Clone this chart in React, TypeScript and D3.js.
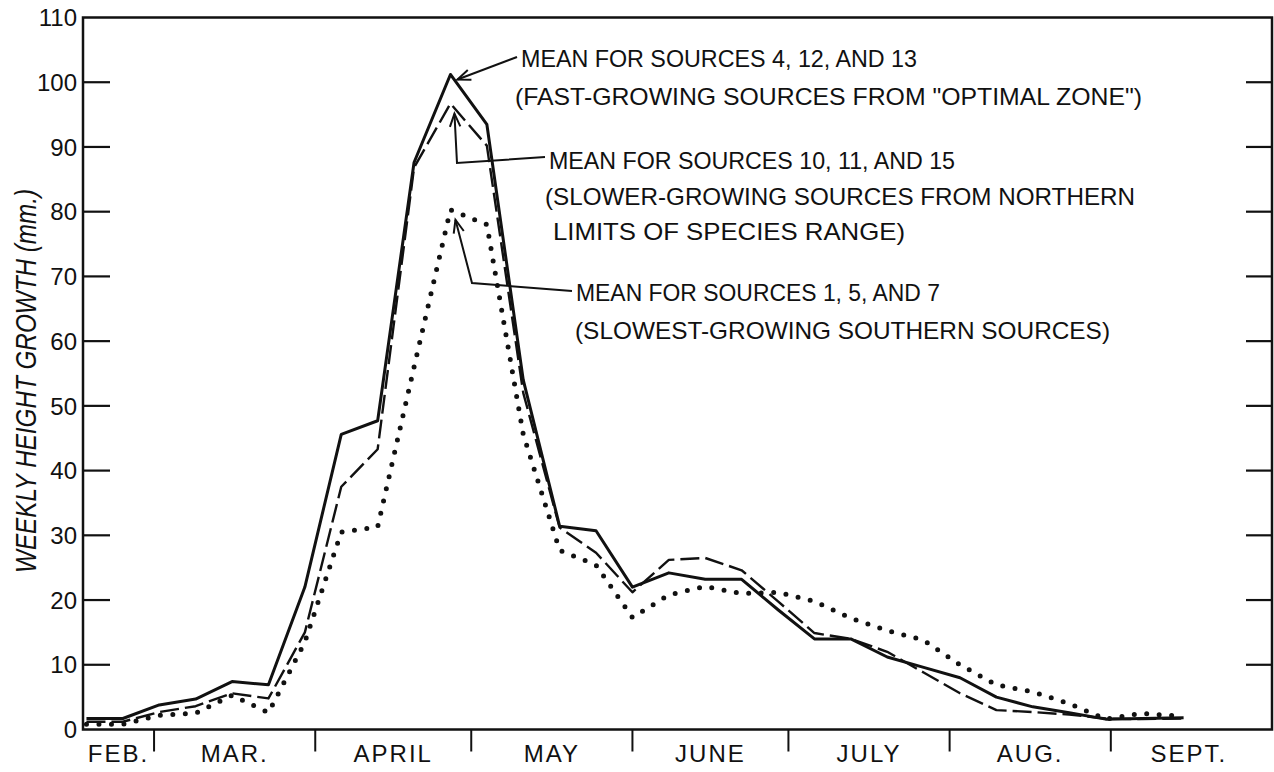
import React from "react";
import * as d3 from "d3";

// Weekly measurement dates (1958 season)
const weekDates = [
  "1958-02-16", "1958-02-23", "1958-03-02", "1958-03-09", "1958-03-16", "1958-03-23",
  "1958-03-30", "1958-04-06", "1958-04-13", "1958-04-20", "1958-04-27", "1958-05-04",
  "1958-05-11", "1958-05-18", "1958-05-25", "1958-06-01", "1958-06-08", "1958-06-15",
  "1958-06-22", "1958-06-29", "1958-07-06", "1958-07-13", "1958-07-20", "1958-07-27",
  "1958-08-03", "1958-08-10", "1958-08-17", "1958-08-24", "1958-08-31", "1958-09-07",
  "1958-09-15",
];

// Weekly height growth (mm.) — sources 4, 12 and 13
const fastSources = [
  1.7, 1.7, 3.8, 4.7, 7.4, 6.9, 22, 45.6, 47.7, 87.6, 101.2, 93.5, 54, 31.4, 30.7, 22.0,
  24.2, 23.2, 23.2, 18.5, 14.0, 14.0, 11.2, 9.6, 8.0, 5.0, 3.5, 2.6, 1.6, 1.7, 1.8,
];

// Sources 10, 11 and 15
const northernSources = [
  1.2, 1.2, 2.7, 3.6, 5.6, 4.8, 15, 37.5, 43.3, 86.8, 96.7, 90.2, 52, 31.2, 27.3, 21.2,
  26.2, 26.5, 24.6, 19.8, 14.9, 14.0, 12.0, 8.8, 5.6, 3.0, 2.7, 2.3, 1.7, 1.6, 1.7,
];

// Sources 1, 5 and 7
const southernSources = [
  0.8, 0.8, 2.2, 2.5, 5.3, 2.6, 13.5, 30.5, 31.3, 56, 80.3, 78, 45.6, 27.7, 25.4, 17.3,
  20.8, 22.1, 21.0, 21.2, 19.8, 17.2, 15.3, 13.8, 10.0, 6.9, 5.8, 4.0, 1.6, 2.5, 2.0,
];

const monthLabels = ["FEB.", "MAR.", "APRIL", "MAY", "JUNE", "JULY", "AUG.", "SEPT."];
const yTickValues = [0, 10, 20, 30, 40, 50, 60, 70, 80, 90, 100, 110];

const labelFast = ["MEAN FOR SOURCES 4, 12, AND 13", '(FAST-GROWING SOURCES FROM "OPTIMAL ZONE")'];
const labelNorthern = [
  "MEAN FOR SOURCES 10, 11, AND 15",
  "(SLOWER-GROWING SOURCES FROM NORTHERN",
  "LIMITS OF SPECIES RANGE)",
];
const labelSouthern = ["MEAN FOR SOURCES 1, 5, AND 7", "(SLOWEST-GROWING SOUTHERN SOURCES)"];
const yAxisTitle = "WEEKLY HEIGHT GROWTH (mm.)";

const W = 1274;
const H = 772;
const left = 83;
const right = 1272;
const top = 17.5;
const bottom = 729.5;
const FONT = "'Liberation Sans', Arial, Helvetica, sans-serif";
const INK = "#111";

const parse = d3.utcParse("%Y-%m-%d");
const dates = weekDates.map((d) => parse(d) as Date);

const domainStart = new Date(Date.UTC(1958, 1, 15, 8));
const domainEnd = new Date(Date.UTC(1958, 9, 2));

const x = d3.scaleUtc().domain([domainStart, domainEnd]).range([left, right]);
const y = d3.scaleLinear().domain([0, 110]).range([bottom, top]);

type Pt = [number, number];

function arrowHead(tip: Pt, from: Pt, len = 14, spread = 0.38): string {
  const a = Math.atan2(from[1] - tip[1], from[0] - tip[0]);
  const p1: Pt = [tip[0] + len * Math.cos(a + spread), tip[1] + len * Math.sin(a + spread)];
  const p2: Pt = [tip[0] + len * Math.cos(a - spread), tip[1] + len * Math.sin(a - spread)];
  return `M${p1[0]},${p1[1]}L${tip[0]},${tip[1]}L${p2[0]},${p2[1]}`;
}

function peakOf(values: number[]): Pt {
  const i = d3.maxIndex(values);
  return [x(dates[i]), y(values[i])];
}

export default function App() {
  const line = d3
    .line<number>()
    .x((_, i) => x(dates[i]))
    .y((v) => y(v));

  const monthStarts = d3.utcMonth.range(new Date(Date.UTC(1958, 2, 1)), new Date(Date.UTC(1958, 8, 2)));
  const monthSpans = d3.utcMonth
    .range(new Date(Date.UTC(1958, 1, 1)), new Date(Date.UTC(1958, 9, 1)))
    .map((m) => {
      const s = Math.max(+m, +domainStart);
      const e = Math.min(+d3.utcMonth.offset(m, 1), +domainEnd);
      return (x(new Date(s)) + x(new Date(e))) / 2;
    });

  // leader lines anchored on each curve's peak
  const pf = peakOf(fastSources);
  const pn = peakOf(northernSources);
  const ps = peakOf(southernSources);
  const tip1: Pt = [pf[0] + 7, pf[1] + 5];
  const tail1: Pt = [517, 57];
  const tip2: Pt = [pn[0] + 4, pn[1] + 10];
  const bend2: Pt = [457, 163];
  const tail2: Pt = [545, 157];
  const tip3: Pt = [ps[0] + 5, ps[1] + 10];
  const bend3: Pt = [472, 283];
  const tail3: Pt = [572, 291];

  const textBlocks = [
    { lines: labelFast, x: [521, 515], y: [67, 105], len: [396, 627] },
    { lines: labelNorthern, x: [549, 545, 553], y: [169, 205, 240], len: [406, 590, 352] },
    { lines: labelSouthern, x: [576, 575], y: [301, 339], len: [364, 535] },
  ];

  return (
    <svg
      width={W}
      height={H}
      viewBox={`0 0 ${W} ${H}`}
      style={{ position: "absolute", left: 0, top: 0, background: "#fff" }}
    >
      <rect x={0} y={0} width={W} height={H} fill="#fff" />

      {/* frame */}
      <rect x={left} y={top} width={right - left} height={bottom - top} fill="none" stroke={INK} strokeWidth={2.5} />

      {/* y ticks on both sides */}
      {yTickValues
        .filter((v) => v > 0 && v < 110)
        .map((v) => (
          <g key={`t${v}`}>
            <line x1={left} x2={left + 27} y1={y(v)} y2={y(v)} stroke={INK} strokeWidth={2.2} />
            <line x1={right - 26} x2={right} y1={y(v)} y2={y(v)} stroke={INK} strokeWidth={2.2} />
          </g>
        ))}
      {yTickValues.map((v) => (
        <text
          key={`l${v}`}
          x={77}
          y={y(v)}
          dy="0.36em"
          textAnchor="end"
          fontFamily={FONT}
          fontSize={24}
          fill={INK}
        >
          {v}
        </text>
      ))}

      {/* month boundaries */}
      {monthStarts.map((m) => (
        <line key={+m} x1={x(m)} x2={x(m)} y1={bottom} y2={bottom + 22} stroke={INK} strokeWidth={2} />
      ))}
      {monthLabels.map((name, i) => (
        <text
          key={name}
          x={monthSpans[i]}
          y={762}
          textAnchor="middle"
          fontFamily={FONT}
          fontSize={24}
          letterSpacing={2}
          fill={INK}
        >
          {name}
        </text>
      ))}

      {/* y axis title */}
      <text
        transform={`translate(36, 381) rotate(-90)`}
        textAnchor="middle"
        fontFamily={FONT}
        fontStyle="italic"
        fontSize={29}
        textLength={384}
        lengthAdjust="spacingAndGlyphs"
        fill={INK}
      >
        {yAxisTitle}
      </text>

      {/* series */}
      <path d={line(southernSources) || ""} fill="none" stroke={INK} strokeWidth={5} strokeLinecap="round" strokeDasharray="0 12.5" />
      <path d={line(northernSources) || ""} fill="none" stroke={INK} strokeWidth={2.4} strokeDasharray="19 6" strokeLinejoin="round" />
      <path d={line(fastSources) || ""} fill="none" stroke={INK} strokeWidth={3} strokeLinejoin="round" />

      {/* leaders */}
      <g fill="none" stroke={INK} strokeWidth={2}>
        <path d={`M${tail1[0]},${tail1[1]}L${tip1[0]},${tip1[1]}`} />
        <path d={arrowHead(tip1, tail1)} />
        <path d={`M${tail2[0]},${tail2[1]}L${bend2[0]},${bend2[1]}L${tip2[0]},${tip2[1]}`} />
        <path d={arrowHead(tip2, bend2)} />
        <path d={`M${tail3[0]},${tail3[1]}L${bend3[0]},${bend3[1]}L${tip3[0]},${tip3[1]}`} />
        <path d={arrowHead(tip3, bend3)} />
      </g>

      {/* annotations */}
      {textBlocks.map((b, bi) =>
        b.lines.map((t, li) => (
          <text
            key={`${bi}-${li}`}
            x={b.x[li]}
            y={b.y[li]}
            fontFamily={FONT}
            fontSize={24}
            textLength={b.len[li]}
            lengthAdjust="spacingAndGlyphs"
            fill={INK}
          >
            {t}
          </text>
        ))
      )}
    </svg>
  );
}
